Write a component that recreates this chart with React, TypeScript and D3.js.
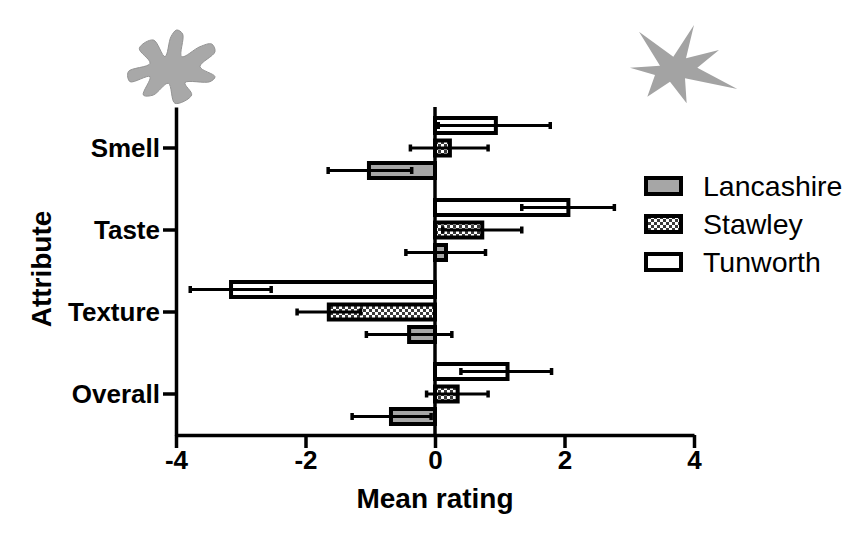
import React, { useEffect, useRef } from "react";
import * as d3 from "d3";

const attributes = ["Smell", "Taste", "Texture", "Overall"];
const cheeses = ["Tunworth", "Stawley", "Lancashire"];
const legendOrder = ["Lancashire", "Stawley", "Tunworth"];
const xTicks = [-4, -2, 0, 2, 4];

// per attribute, same order as attributes
const tunworthMean = [0.94, 2.06, -3.15, 1.12];
const tunworthLow = [0.05, 1.34, -3.78, 0.4];
const tunworthHigh = [1.78, 2.77, -2.53, 1.8];
const stawleyMean = [0.23, 0.73, -1.64, 0.35];
const stawleyLow = [-0.38, 0.12, -2.13, -0.13];
const stawleyHigh = [0.82, 1.34, -1.15, 0.82];
const lancashireMean = [-1.02, 0.17, -0.4, -0.68];
const lancashireLow = [-1.65, -0.45, -1.06, -1.28];
const lancashireHigh = [-0.36, 0.78, 0.26, -0.06];

const means: Record<string, number[]> = { Tunworth: tunworthMean, Stawley: stawleyMean, Lancashire: lancashireMean };
const lows: Record<string, number[]> = { Tunworth: tunworthLow, Stawley: stawleyLow, Lancashire: lancashireLow };
const highs: Record<string, number[]> = { Tunworth: tunworthHigh, Stawley: stawleyHigh, Lancashire: lancashireHigh };

const fills: Record<string, string> = { Tunworth: "#ffffff", Stawley: "url(#checks)", Lancashire: "#a6a6a6" };

// outlines of the two decorative shapes above the plot
const blobOutline: [number, number][] = [
  [200, 30], [218, 42], [215, 110], [270, 80], [305, 72], [315, 95], [270, 140], [315, 170], [300, 185],
  [225, 188], [245, 225], [195, 250], [175, 190], [130, 225], [100, 225], [120, 170], [60, 185], [55, 155],
  [120, 130], [88, 85], [130, 60], [165, 110], [183, 50],
];
const starOutline: [number, number][] = [
  [57, 50], [160, 125], [222, 30], [198, 130], [297, 105], [232, 158], [352, 222], [195, 190], [200, 265],
  [150, 200], [82, 245], [105, 180], [30, 158], [120, 152],
];

const font = "'Liberation Sans', Arial, sans-serif";

const App: React.FC = () => {
  const svgRef = useRef<SVGSVGElement | null>(null);

  useEffect(() => {
    const svg = d3.select(svgRef.current);
    svg.selectAll("*").remove();

    const x = d3.scaleLinear().domain([-4, 4]).range([176, 694]);
    const y = d3.scaleBand<string>().domain(attributes).range([107, 435]);
    const inner = d3.scaleBand<string>().domain(cheeses).range([-33.75, 33.75]);
    const barH = 15;
    const sw = 4;

    const defs = svg.append("defs");
    const pat = defs.append("pattern").attr("id", "checks").attr("width", 6).attr("height", 6).attr("patternUnits", "userSpaceOnUse");
    pat.append("rect").attr("width", 6).attr("height", 6).attr("fill", "#fff");
    pat.append("rect").attr("width", 3).attr("height", 3).attr("fill", "#3a3a3a");
    pat.append("rect").attr("x", 3).attr("y", 3).attr("width", 3).attr("height", 3).attr("fill", "#3a3a3a");

    // decorative shapes
    const closed = d3.line().curve(d3.curveCatmullRomClosed.alpha(0.5));
    svg.append("path")
      .attr("transform", "translate(110,20) scale(0.3333)")
      .attr("d", closed(blobOutline))
      .attr("fill", "#a8a8a8").attr("stroke", "#939393").attr("stroke-width", 3);
    svg.append("path")
      .attr("transform", "translate(620,15) scale(0.3333)")
      .attr("d", d3.line()(starOutline) + "Z")
      .attr("fill", "#a3a3a3");

    // bars and error bars
    attributes.forEach((attr, i) => {
      const cy = (y(attr) as number) + y.bandwidth() / 2;
      cheeses.forEach((c) => {
        const my = cy + (inner(c) as number) + inner.bandwidth() / 2;
        const v = means[c][i];
        svg.append("rect")
          .attr("x", Math.min(x(0), x(v)))
          .attr("y", my - barH / 2)
          .attr("width", Math.abs(x(v) - x(0)))
          .attr("height", barH)
          .attr("fill", fills[c])
          .attr("stroke", "#000")
          .attr("stroke-width", sw);
        svg.append("line")
          .attr("x1", x(lows[c][i])).attr("x2", x(highs[c][i]))
          .attr("y1", my).attr("y2", my)
          .attr("stroke", "#000").attr("stroke-width", 3);
        [lows[c][i], highs[c][i]].forEach((e) => {
          svg.append("line")
            .attr("x1", x(e)).attr("x2", x(e))
            .attr("y1", my - 3.5).attr("y2", my + 3.5)
            .attr("stroke", "#000").attr("stroke-width", 3.5);
        });
      });
    });

    // zero line
    svg.append("line")
      .attr("x1", x(0)).attr("x2", x(0)).attr("y1", 107).attr("y2", 435)
      .attr("stroke", "#000").attr("stroke-width", 3.5);

    // axes
    const xAxis = svg.append("g")
      .attr("transform", "translate(0,435)")
      .call(d3.axisBottom(x).tickValues(xTicks).tickSize(13).tickSizeOuter(0).tickPadding(3).tickFormat((d) => String(d)));
    const yAxis = svg.append("g")
      .attr("transform", "translate(176,0)")
      .call(d3.axisLeft(y).tickSize(13).tickSizeOuter(0).tickPadding(3));
    [xAxis, yAxis].forEach((g) => {
      g.selectAll("path").attr("stroke", "#000").attr("stroke-width", 3.5);
      g.selectAll("line").attr("stroke", "#000").attr("stroke-width", 3.5);
      g.selectAll("text").attr("fill", "#000").attr("font-family", font).attr("font-weight", "bold").attr("font-size", 26);
    });
    yAxis.selectAll("text").attr("y", 1);

    // axis titles
    svg.append("text")
      .attr("x", 435).attr("y", 508).attr("text-anchor", "middle")
      .attr("font-family", font).attr("font-weight", "bold").attr("font-size", 28)
      .text("Mean rating");
    svg.append("text")
      .attr("transform", "translate(51,269) rotate(-90)").attr("text-anchor", "middle")
      .attr("font-family", font).attr("font-weight", "bold").attr("font-size", 28)
      .text("Attribute");

    // legend
    const legendY = d3.scalePoint<string>().domain(legendOrder).range([186, 262]);
    legendOrder.forEach((c) => {
      const ly = legendY(c) as number;
      svg.append("rect")
        .attr("x", 646).attr("y", ly - 8).attr("width", 35).attr("height", 16)
        .attr("fill", fills[c]).attr("stroke", "#000").attr("stroke-width", 4);
      svg.append("text")
        .attr("x", 703).attr("y", ly + 9.5)
        .attr("font-family", font).attr("font-size", 28.5).attr("fill", "#000")
        .text(c);
    });
  }, []);

  return <svg ref={svgRef} width={867} height={537} style={{ position: "absolute", left: 0, top: 0, background: "#fff" }} />;
};

export default App;
